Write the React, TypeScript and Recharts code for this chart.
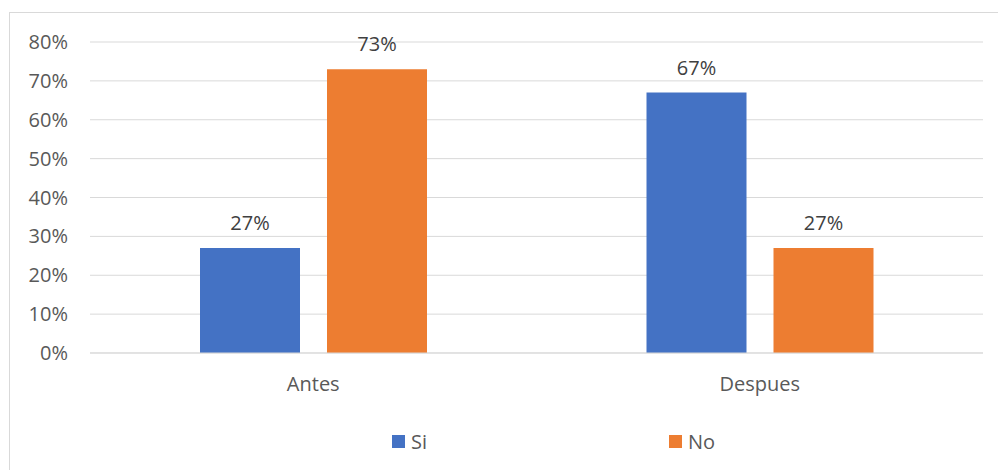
import { BarChart, Bar, XAxis, YAxis, CartesianGrid, Legend, LabelList } from "recharts";

const categories = ["Antes", "Despues"];
const seriesNames = ["Si", "No"];
const siValues = [27, 67];
const noValues = [73, 27];
const yTicks = [0, 10, 20, 30, 40, 50, 60, 70, 80];

const SI_COLOR = "#4472C4";
const NO_COLOR = "#ED7D31";
const FONT = "'Open Sans', sans-serif";

const data = categories.map((name, i) => ({ name, si: siValues[i], no: noValues[i] }));

const pct = (v: number | string) => `${v}%`;

function LegendContent(props: any) {
  const payload = [...(props.payload || [])].sort(
    (a: any, b: any) => seriesNames.indexOf(a.value) - seriesNames.indexOf(b.value)
  );
  return (
    <div style={{ height: 30, display: "flex", alignItems: "center", paddingLeft: 382, fontFamily: FONT }}>
      {payload.map((item: any) => (
        <div key={item.value} style={{ width: 277, display: "flex", alignItems: "center" }}>
          <span style={{ width: 13, height: 13, background: item.color, display: "inline-block", marginRight: 6 }} />
          <span style={{ fontSize: 20, color: "#595959" }}>{item.value}</span>
        </div>
      ))}
    </div>
  );
}

export default function App() {
  return (
    <div
      style={{
        position: "absolute",
        left: 9,
        top: 12,
        width: 988,
        height: 457,
        borderLeft: "1px solid #d9d9d9",
        borderTop: "1px solid #d9d9d9",
        background: "#fff",
      }}
    >
      <BarChart
        width={988}
        height={457}
        data={data}
        margin={{ top: 29, right: 15, left: 0, bottom: 14 }}
        barGap={27}
        style={{ fontFamily: FONT }}
      >
        <CartesianGrid vertical={false} stroke="#d9d9d9" />
        <XAxis
          dataKey="name"
          height={73}
          tickLine={false}
          axisLine={{ stroke: "#d9d9d9" }}
          tickMargin={18}
          tick={{ fill: "#595959", fontSize: 20 }}
        />
        <YAxis
          width={80}
          domain={[0, 80]}
          ticks={yTicks}
          tickFormatter={pct}
          axisLine={false}
          tickLine={false}
          tickMargin={16}
          tick={{ fill: "#595959", fontSize: 20 }}
        />
        <Legend verticalAlign="bottom" wrapperStyle={{ left: 0, width: 988 }} content={<LegendContent />} />
        <Bar dataKey="si" name={seriesNames[0]} fill={SI_COLOR} barSize={100} isAnimationActive={false}>
          <LabelList dataKey="si" position="top" offset={18} formatter={pct} fill="#404040" fontSize={20} />
        </Bar>
        <Bar dataKey="no" name={seriesNames[1]} fill={NO_COLOR} barSize={100} isAnimationActive={false}>
          <LabelList dataKey="no" position="top" offset={18} formatter={pct} fill="#404040" fontSize={20} />
        </Bar>
      </BarChart>
    </div>
  );
}
